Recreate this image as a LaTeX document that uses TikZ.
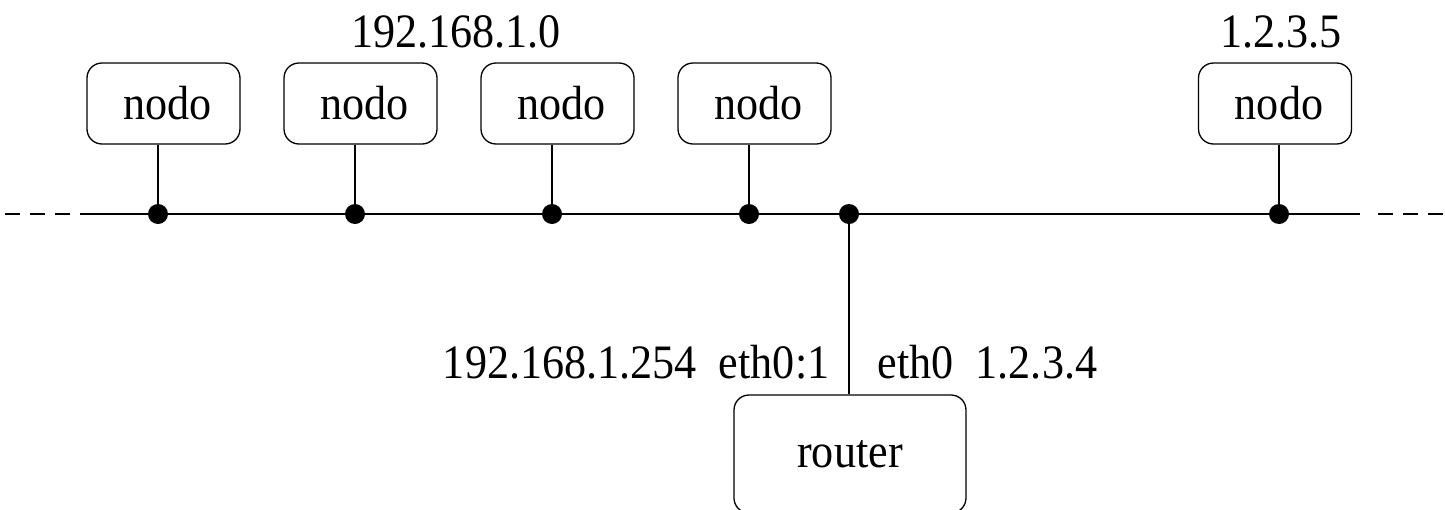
\documentclass[tikz,border=0pt]{standalone}
\usepackage{fontspec}
\setmainfont{Liberation Serif}
\newfontfamily\tallserif[FakeStretch=0.92]{Liberation Serif}
\begin{document}
\begin{tikzpicture}[x=1pt,y=-1pt, line width=1.3pt,
  bigfont/.style={font=\tallserif\fontsize{48}{54}\selectfont},
  box/.style={draw, rounded corners=15pt, minimum width=153pt, minimum height=81pt, inner sep=0pt, bigfont},
  lbl/.style={inner sep=0pt, bigfont},
  dot/.style={circle, fill, inner sep=0pt, minimum size=20pt},
  bus/.style={line width=1.3pt},
  dashbus/.style={line width=1.3pt, dash pattern=on 15pt off 10pt}]
\useasboundingbox (0,0) rectangle (1445,509);
% nodes
\node[box] (n1) at (163.5,103.5) {\hspace{8pt}nodo};
\node[box] (n2) at (360.5,103.5) {\hspace{8pt}nodo};
\node[box] (n3) at (557.5,103.5) {\hspace{8pt}nodo};
\node[box] (n4) at (754.5,103.5) {\hspace{8pt}nodo};
\node[box] (n5) at (1275,103.5) {\hspace{8pt}nodo};
\node[box, minimum width=232pt, minimum height=118pt] (r) at (850,454) {router};
% bus points
\node[dot] (d1) at (158,214) {};
\node[dot] (d2) at (355,214) {};
\node[dot] (d3) at (552,214) {};
\node[dot] (d4) at (749,214) {};
\node[dot] (dr) at (849,214) {};
\node[dot] (d5) at (1279,214) {};
\coordinate (bl) at (80,214);
\coordinate (br) at (1360,214);
\coordinate (el) at (0,214);
\coordinate (er) at (1445,214);
% bus
\draw[bus] (bl) -- (br);
\draw[dashbus] ([xshift=-10pt]bl) -- (el);
\draw[dashbus] ([xshift=18pt]br) -- (er);
% drops
\draw (n1.south -| d1) -- (d1.center);
\draw (n2.south -| d2) -- (d2.center);
\draw (n3.south -| d3) -- (d3.center);
\draw (n4.south -| d4) -- (d4.center);
\draw (n5.south -| d5) -- (d5.center);
\draw (dr.center) -- (r.north -| dr);
% labels
\node[lbl, anchor=base] (net) at (456,47) {192.168.1.0};
\node[lbl, anchor=base] (ip5) at (1281,47) {1.2.3.5};
\node[lbl, anchor=base east] (ipl) at (830,378) {192.168.1.254~~eth0:1};
\node[lbl, anchor=base west] (ipr) at (877,378) {eth0~~1.2.3.4};
\end{tikzpicture}
\end{document}
